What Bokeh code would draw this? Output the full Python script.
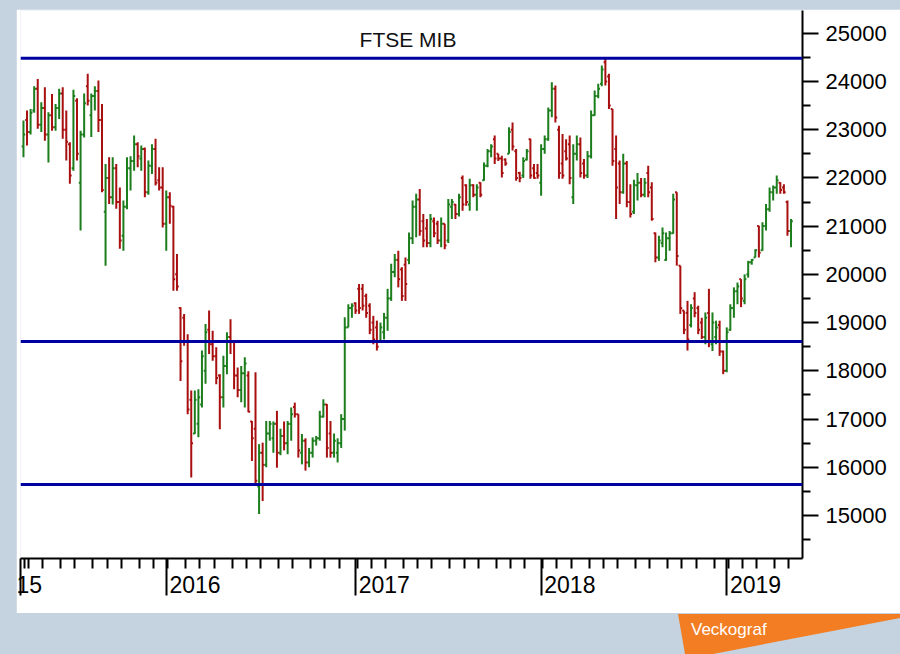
import pandas as pd
from bokeh.plotting import figure
from bokeh.models import (Range1d, FixedTicker, Span, Label, Div, ColumnDataSource,
                          CustomJSTickFormatter, GlobalInlineStyleSheet)
from bokeh.layouts import column
from bokeh.embed import file_html
from bokeh.resources import INLINE

# ---------------- data (weekly FTSE MIB bars) ----------------
first_week = "2015-03-27"

opens = [22650, 23200, 22950, 23400, 23850, 23100, 23450, 22900, 23300, 23050,
         23450, 23750, 23000, 22700, 22200, 23600, 21900, 22900, 23900, 23300,
         23700, 23800, 23200, 21300, 22000, 21600, 22200, 21500, 20800, 21400,
         22200, 22350, 22700, 22400, 22600, 21700, 22250, 22600, 21950, 21800,
         21050, 21600, 21400, 20000, 19300, 19100, 18600, 17400, 16700, 16900,
         17300, 18000, 18850, 18550, 18300, 17900, 17450, 18100, 18700, 18600,
         17900, 17600, 17950, 17900, 16950, 16800, 15600, 16300, 16050, 16700,
         16600, 16900, 16300, 16650, 16500, 16900, 17250, 17100, 16300, 16550,
         16100, 16300, 16550, 16600, 17050, 17300, 16700, 16300, 16300, 16500,
         17000, 18900, 19300, 19400, 19700, 19700, 19550, 19350, 19000, 18900,
         18600, 18800, 19100, 19500, 20050, 20300, 20100, 20200, 20300, 20750,
         21400, 21550, 21100, 20950, 20650, 21100, 21050, 20700, 21050, 20700,
         21400, 21450, 21250, 22000, 21850, 21450, 21850, 21650, 21900, 21950,
         22250, 22550, 22800, 22500, 22400, 22380, 22500, 23000, 22550, 22100,
         22050, 22380, 22800, 22200, 22100, 21900, 22600, 22800, 23400, 23850,
         23000, 22300, 22550, 22700, 21600, 22500, 22700, 22300, 22050, 22450,
         23300, 23700, 23950, 24400, 24100, 23430, 22600, 22300, 21700, 22300,
         21500, 21300, 21850, 21900, 21650, 22100, 21800, 20850, 20350, 20650,
         20300, 20750, 20850, 21700, 20180, 19250, 19200, 18950, 19500, 19300,
         19000, 18700, 19200, 18550, 18700, 18950, 18400, 18000, 18850, 19300,
         19650, 19900, 19450, 20000, 20250, 20350, 21000, 20500, 21000, 21350,
         21700, 21800, 21900, 21800, 21500, 20900]

highs = [23190, 23400, 23430, 23900, 24050, 23570, 23880, 23360, 23740, 23530,
         23850, 23880, 23400, 22740, 23830, 23650, 22980, 23750, 24160, 23750,
         23900, 24020, 23530, 22290, 22430, 22430, 22290, 21800, 21530, 22430,
         22450, 22880, 22740, 22670, 22630, 22360, 22700, 22810, 22220, 22220,
         21740, 21700, 21420, 20420, 19320, 19180, 18760, 17590, 17590, 17620,
         18420, 18970, 19250, 18830, 18490, 17930, 18310, 18800, 19070, 18620,
         18070, 18100, 18280, 17990, 16960, 17970, 16480, 16510, 16960, 16960,
         16950, 17170, 16800, 16950, 16960, 17240, 17340, 17100, 16690, 16600,
         16400, 16620, 16650, 17170, 17410, 17310, 16960, 16700, 16600, 17100,
         19110, 19380, 19400, 19420, 19800, 19800, 19600, 19400, 19140, 19040,
         19000, 19200, 19700, 20220, 20420, 20490, 20150, 20350, 20870, 21530,
         21670, 21770, 21250, 21150, 21250, 21180, 21110, 21180, 21050, 21560,
         21560, 21460, 21670, 22050, 21870, 21980, 21870, 21870, 21910, 22320,
         22600, 22700, 22880, 22500, 22460, 22400, 23050, 23150, 22600, 22130,
         22430, 22600, 22810, 22290, 22290, 22700, 22880, 23460, 23985, 23915,
         23080, 22910, 22800, 22880, 22700, 22880, 22840, 22390, 22560, 23400,
         23810, 23950, 24330, 24500, 24160, 23430, 22880, 22360, 22500, 22350,
         21870, 21960, 22100, 22000, 22000, 22250, 21910, 20870, 20800, 20970,
         20870, 20900, 21670, 21700, 20180, 19250, 19450, 19380, 19630, 19350,
         19100, 19210, 19700, 19210, 19040, 19040, 18420, 18900, 19380, 19730,
         19830, 19900, 20000, 20280, 20320, 20520, 21010, 21080, 21460, 21800,
         21840, 22050, 21910, 21870, 21530, 21150]

lows = [22430, 22670, 22900, 23350, 23020, 22950, 22770, 22320, 22980, 22980,
        23220, 22810, 22360, 21880, 22150, 22360, 20910, 22840, 23500, 22850,
        23400, 22950, 21700, 20180, 21460, 21450, 21360, 20530, 20490, 21350,
        21740, 22150, 22220, 22150, 21600, 21650, 22080, 21840, 21740, 20970,
        20490, 21050, 19660, 19660, 17790, 18520, 17100, 15790, 16690, 16620,
        17240, 17730, 18350, 18210, 17720, 16790, 17240, 17930, 18350, 17620,
        17450, 17350, 17240, 17140, 16130, 15650, 15030, 15300, 16000, 16550,
        16300, 15990, 16250, 16350, 16270, 16550, 17030, 16200, 16060, 15930,
        16000, 16200, 16450, 16550, 17030, 16200, 16200, 16200, 16100, 16400,
        16760, 18900, 19100, 19180, 19180, 19250, 19100, 18760, 18550, 18420,
        18600, 18650, 18830, 19450, 19940, 19730, 19450, 19450, 20210, 20630,
        20770, 20800, 20560, 20560, 20560, 20770, 20630, 20560, 20520, 20650,
        21150, 21150, 21200, 21320, 21420, 21320, 21600, 21320, 21600, 21940,
        22220, 22430, 22290, 22350, 22010, 22250, 22500, 22570, 21940, 21910,
        22000, 22360, 21980, 21980, 21980, 21630, 22500, 22770, 23260, 23150,
        21980, 21980, 22360, 21870, 21460, 22360, 22010, 21980, 22000, 22400,
        23290, 23650, 23900, 23915, 23430, 22250, 21150, 21460, 21670, 21390,
        21180, 21250, 21530, 21600, 21600, 21600, 21110, 20250, 20280, 20560,
        20280, 20490, 20840, 20180, 19180, 18760, 18420, 18900, 19110, 18760,
        18660, 18550, 18490, 18410, 18550, 18310, 17930, 17970, 18830, 19100,
        19380, 19320, 19380, 19930, 20200, 20350, 20350, 20490, 20910, 21300,
        21530, 21670, 21670, 21670, 20800, 20560]

closes = [22900, 22950, 23350, 23850, 23100, 23450, 22900, 23300, 23050, 23450,
          23750, 23000, 22750, 22050, 23700, 22500, 22900, 23550, 23600, 23700,
          23800, 23200, 21750, 22000, 21600, 22200, 21500, 20700, 21400, 22200,
          22350, 22700, 22450, 22600, 21700, 22250, 22600, 21900, 21800, 21050,
          21600, 21420, 19900, 19750, 18200, 18600, 17200, 16500, 17400, 17450,
          18300, 18800, 18550, 18300, 17850, 17450, 18100, 18700, 18600, 17900,
          17600, 17950, 18150, 17150, 16600, 15720, 16300, 16050, 16700, 16900,
          16900, 16300, 16650, 16500, 16900, 17100, 17100, 16350, 16550, 16100,
          16300, 16550, 16600, 17050, 17300, 16400, 16300, 16550, 16500, 17000,
          18900, 19300, 19350, 19250, 19300, 19350, 19200, 18850, 18650, 18500,
          18900, 19100, 19500, 20050, 20300, 19900, 19550, 19800, 20750, 21400,
          21550, 20900, 20700, 20650, 21150, 20850, 20700, 21050, 20600, 21450,
          21500, 21250, 21600, 21450, 21500, 21850, 21650, 21800, 21650, 22250,
          22550, 22650, 22400, 22400, 22100, 22300, 22950, 22650, 22000, 22000,
          22350, 22550, 22050, 22000, 22050, 22600, 22800, 23400, 23850, 23250,
          22100, 22050, 22400, 22000, 22500, 22700, 22100, 22050, 22450, 23300,
          23700, 23850, 24250, 24000, 23500, 22350, 21800, 21700, 22300, 21500,
          21250, 21850, 21900, 21650, 21900, 21700, 21150, 20350, 20700, 20850,
          20750, 20850, 21550, 20380, 19300, 18850, 18650, 19300, 19200, 18850,
          18700, 19100, 18600, 19000, 18900, 18400, 18000, 18800, 19300, 19650,
          19750, 19500, 19900, 20250, 20300, 20500, 20450, 21000, 21350, 21700,
          21800, 21950, 21750, 21700, 20900, 21100]

levels = [24480, 18610, 15640]          # horizontal support / resistance lines
y_ticks = [15000, 16000, 17000, 18000, 19000, 20000, 21000, 22000, 23000, 24000, 25000]
y_minor = [14500, 15500, 16500, 17500, 18500, 19500, 20500, 21500, 22500, 23500, 24500]
title_text = "FTSE MIB"
corner_text = "Veckograf"
edge_year_text = "15"                   # what is left visible of "2015" at the left edge

# ---------------- build ----------------
x_start = pd.Timestamp("2015-03-21 05:00")
x_end = pd.Timestamp("2019-06-01 12:00")

dates = pd.date_range(first_week, periods=len(closes), freq="7D")
half = pd.Timedelta(days=3.5)
colors = ["#1c7d1c" if c >= o else "#a80f0f" for o, c in zip(opens, closes)]
src = ColumnDataSource(dict(t=dates, tl=dates - half, tr=dates + half,
                            o=opens, h=highs, l=lows, c=closes, col=colors))

# axis ticks: first weekly bar of every month (minor) and of every year (major)
first_of_month = [d for k, d in enumerate(dates) if k == 0 or d.month != dates[k - 1].month]
ms = lambda d: d.value / 1e6
year_firsts = [d for d in first_of_month if d.month == 1]
edge_tick = ms(x_start + pd.Timedelta(hours=1))
major_x = [edge_tick] + [ms(d) for d in year_firsts]
minor_x = [ms(d + pd.Timedelta(days=3)) for d in first_of_month]

NB = "\u00a0"
tick_labels = {str(int(round(edge_tick))): edge_year_text}
for d in year_firsts:
    tick_labels[str(int(round(ms(d))))] = NB * 9 + str(d.year)

p = figure(frame_width=782, frame_height=548, x_axis_type="datetime",
           y_axis_location="right", title=None,
           x_range=Range1d(x_start, x_end),
           y_range=Range1d(14108, 25471),
           toolbar_location=None, output_backend="svg",
           min_border_left=4, min_border_right=98, min_border_top=1, min_border_bottom=55,
           background_fill_color="white", border_fill_color="white",
           outline_line_color=None)
p.margin = (9, 0, 0, 16)
p.xgrid.visible = False
p.ygrid.visible = False

p.segment(x0="t", y0="l", x1="t", y1="h", line_color="col", line_width=2, source=src)
p.segment(x0="tl", y0="o", x1="t", y1="o", line_color="col", line_width=2, source=src)
p.segment(x0="t", y0="c", x1="tr", y1="c", line_color="col", line_width=2, source=src)

for lv in levels:
    p.add_layout(Span(location=lv, dimension="width", line_color="#0000a0", line_width=3))

yax = p.yaxis[0]
yax.ticker = FixedTicker(ticks=y_ticks, minor_ticks=y_minor)
yax.axis_line_width = 2
yax.axis_line_color = "black"
yax.major_tick_line_width = 2
yax.minor_tick_line_width = 2
yax.major_tick_out = 16
yax.major_tick_in = 0
yax.minor_tick_out = 8
yax.minor_tick_in = 0
yax.major_label_standoff = 7
yax.major_label_text_font = "Liberation Sans"
yax.major_label_text_font_size = "22px"
yax.major_label_text_color = "black"

xax = p.xaxis[0]
xax.ticker = FixedTicker(ticks=major_x, minor_ticks=minor_x)
xax.formatter = CustomJSTickFormatter(args=dict(labels=tick_labels),
                                      code="return labels[String(Math.round(tick))] || '';")
xax.major_label_text_font = "Liberation Sans"
xax.major_label_text_font_size = "23px"
xax.major_label_text_color = "black"
xax.major_label_standoff = -24
xax.axis_line_width = 2
xax.axis_line_color = "black"
xax.major_tick_line_width = 2
xax.minor_tick_line_width = 2
xax.major_tick_out = 37
xax.major_tick_in = 0
xax.minor_tick_out = 10
xax.minor_tick_in = 0

p.add_layout(Label(x=387.5, y=519, x_units="screen", y_units="screen", text=title_text,
                   text_font="Liberation Sans", text_font_size="21px", text_color="#111111",
                   text_baseline="alphabetic", text_align="center"))

badge = Div(text=('<div style="width:222px;height:41px;background:#f27d22;'
                  'clip-path:polygon(0px 1px,222px 1px,222px 5px,35px 41px,7px 41px);'
                  'color:#ffffff;font-family:\'Liberation Sans\',Arial,sans-serif;'
                  'font-size:17px;line-height:17px;padding:8px 0 0 13px;'
                  'box-sizing:border-box;">' + corner_text + '</div>'),
            width=222, height=41, margin=(0, 0, 0, 678))

page = column(p, badge, spacing=0,
              stylesheets=[GlobalInlineStyleSheet(css="body { background-color: #c5d2df; }")])

open("out.html", "w").write(file_html(page, INLINE))
